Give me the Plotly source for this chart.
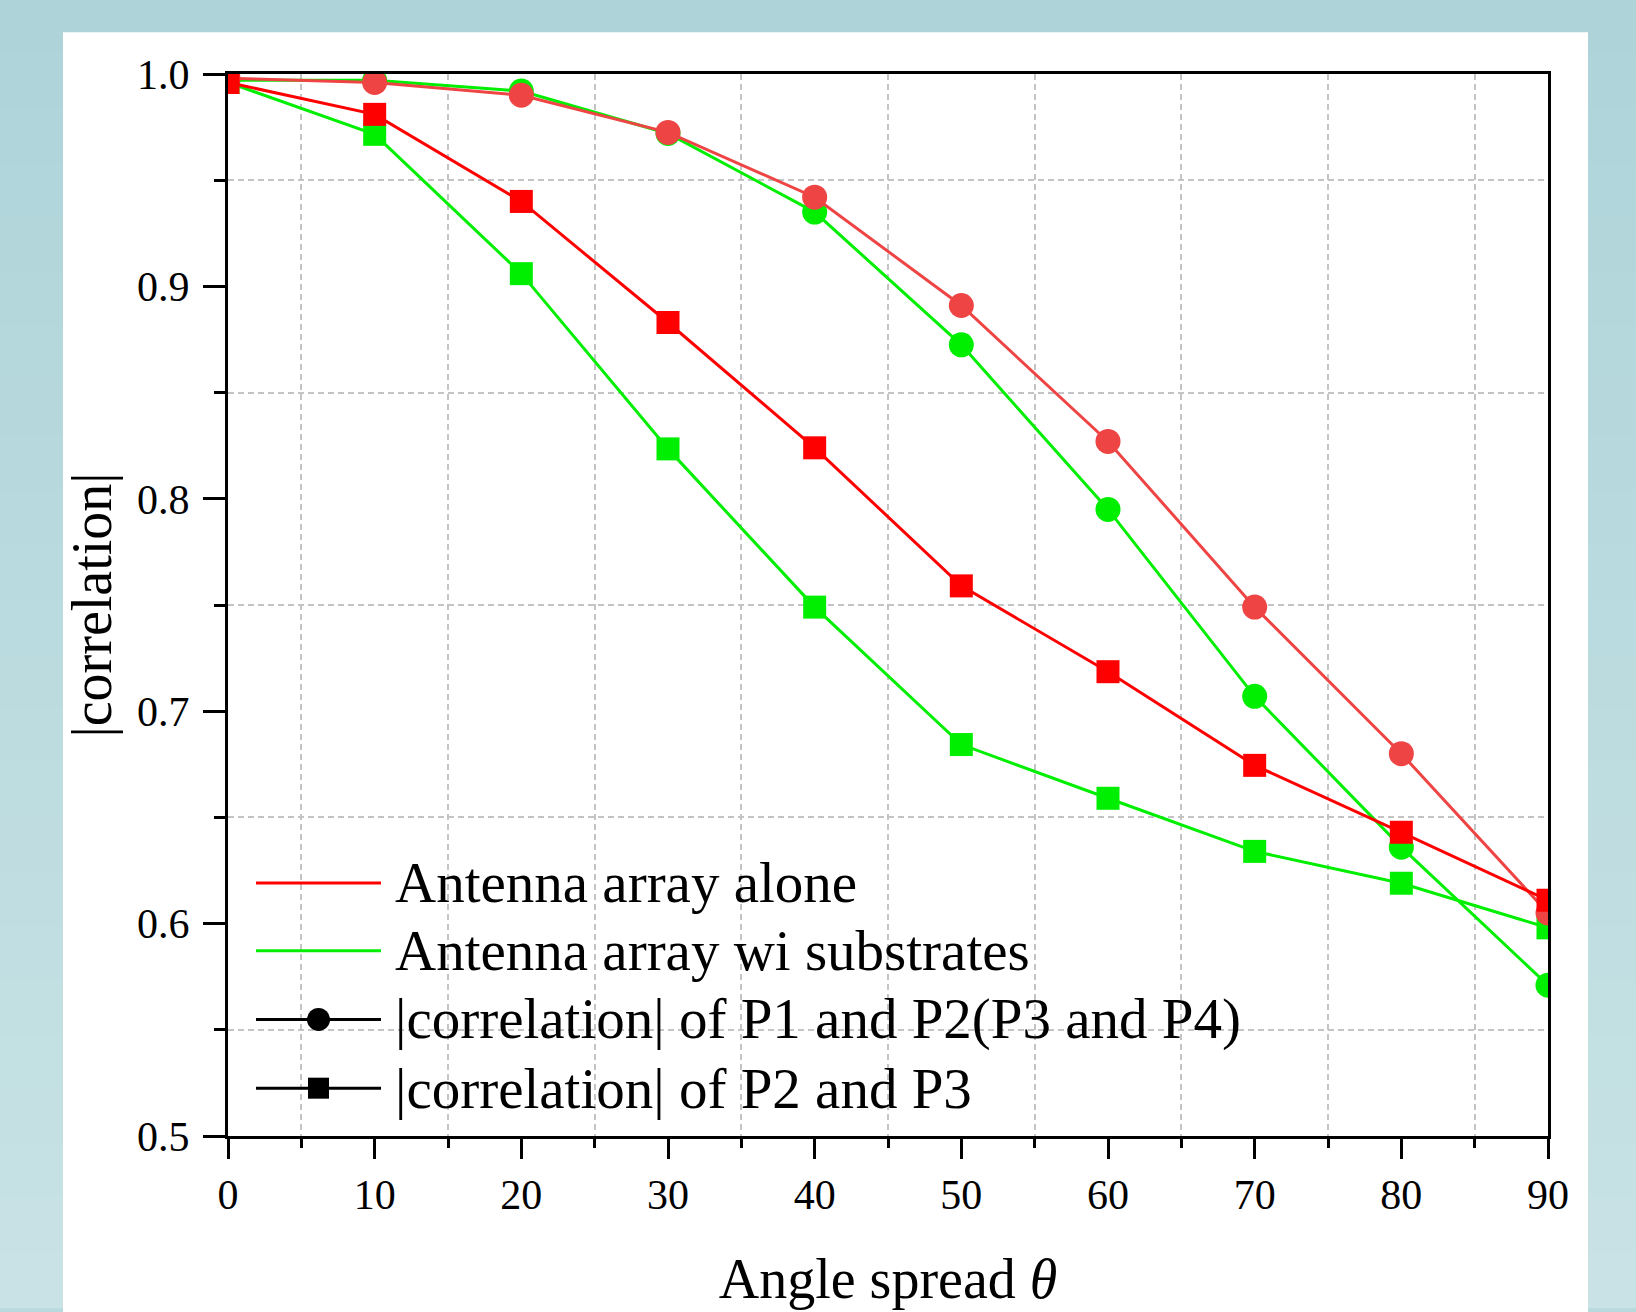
import plotly.graph_objects as go

# ---- data ----
angle = [0, 10, 20, 30, 40, 50, 60, 70, 80, 90]
alone_p12 = [0.998, 0.996, 0.990, 0.9725, 0.942, 0.891, 0.827, 0.749, 0.680, 0.605]
subs_p12 = [0.997, 0.997, 0.992, 0.972, 0.935, 0.8725, 0.795, 0.707, 0.636, 0.571]
alone_p23 = [0.996, 0.981, 0.940, 0.883, 0.824, 0.759, 0.7186, 0.6745, 0.643, 0.611]
subs_p23 = [0.996, 0.9716, 0.906, 0.8235, 0.749, 0.6843, 0.659, 0.634, 0.619, 0.598]

legend_names = ["Antenna array alone", "Antenna array wi substrates",
                "|correlation| of P1 and P2(P3 and P4)", "|correlation| of P2 and P3"]
x_ticks = [0, 10, 20, 30, 40, 50, 60, 70, 80, 90]
x_minor_ticks = [5, 15, 25, 35, 45, 55, 65, 75, 85]
y_ticks = [0.5, 0.6, 0.7, 0.8, 0.9, 1.0]
y_tick_text = ["0.5", "0.6", "0.7", "0.8", "0.9", "1.0"]
y_minor_ticks = [0.55, 0.65, 0.75, 0.85, 0.95]

RED = "#ff0000"
RED_C = "#ef4444"
GREEN = "#00ee00"
FONT = "Liberation Serif"

W, H = 1636, 1312
L, R, T, B = 228, 88, 74, 172

fig = go.Figure()

def add(y, color, symbol, size, name):
    fig.add_trace(go.Scatter(
        x=angle, y=y, mode="lines+markers", showlegend=False, name=name,
        line=dict(color=color, width=3),
        marker=dict(color=color, symbol=symbol, size=size, line=dict(width=0)),
    ))

add(subs_p12, GREEN, "circle", 25, legend_names[1])
add(subs_p23, GREEN, "square", 23, legend_names[1])
add(alone_p12, RED_C, "circle", 25, legend_names[0])
add(alone_p23, RED, "square", 23, legend_names[0])

plot_w = W - L - R
plot_h = H - T - B
def px_to_paper_x(px):
    return (px - L) / plot_w
def px_to_paper_y(py):
    return (H - B - py) / plot_h

# background: teal gradient + white panel
shapes = []
top_c = (174, 212, 217)
bot_c = (200, 226, 229)
n = 24
for i in range(n):
    f = i / (n - 1)
    c = tuple(round(top_c[k] + (bot_c[k] - top_c[k]) * f) for k in range(3))
    shapes.append(dict(type="rect", xref="paper", yref="paper", layer="below",
                       x0=px_to_paper_x(-5), x1=px_to_paper_x(W + 5),
                       y0=px_to_paper_y(H * (i + 1) / n + 1), y1=px_to_paper_y(H * i / n - 1),
                       fillcolor="rgb(%d,%d,%d)" % c, line=dict(width=0)))
shapes.append(dict(type="rect", xref="paper", yref="paper", layer="below",
                   x0=px_to_paper_x(63), x1=px_to_paper_x(1588),
                   y0=px_to_paper_y(H + 5), y1=px_to_paper_y(32),
                   fillcolor="white", line=dict(width=0)))

# legend (drawn as a key box inside the plot)
leg_rows = [886, 954, 1023, 1092]
leg_line_colors = [RED, GREEN, "black", "black"]
leg_symbols = [None, None, "circle", "square"]
sym_x0, sym_x1, text_x = 256, 381, 393
annotations = []
for row, name, col, sym in zip(leg_rows, legend_names, leg_line_colors, leg_symbols):
    yp = px_to_paper_y(row)
    shapes.append(dict(type="line", xref="paper", yref="paper",
                       x0=px_to_paper_x(sym_x0), x1=px_to_paper_x(sym_x1), y0=yp, y1=yp,
                       line=dict(color=col, width=3)))
    if sym is not None:
        xc = px_to_paper_x((sym_x0 + sym_x1) / 2)
        half = 11.5 if sym == "circle" else 10.5
        shapes.append(dict(type="circle" if sym == "circle" else "rect",
                           xref="paper", yref="paper",
                           xsizemode="pixel", ysizemode="pixel", xanchor=xc, yanchor=yp,
                           x0=-half, x1=half, y0=-half, y1=half,
                           fillcolor="black", line=dict(width=0)))
    annotations.append(dict(xref="paper", yref="paper", x=px_to_paper_x(text_x), y=yp,
                            xanchor="left", yanchor="middle", showarrow=False, text=name,
                            font=dict(family=FONT, size=57, color="black")))

axis_common = dict(
    showline=True, linecolor="black", linewidth=3, mirror=True,
    ticks="outside", tickcolor="black", tickwidth=2.5,
    showgrid=False, zeroline=False,
    tickfont=dict(family=FONT, size=42, color="black"),
)

fig.update_xaxes(
    **axis_common,
    range=[0, 90], tickvals=x_ticks, ticklen=20,
    minor=dict(tickvals=x_minor_ticks, ticks="outside", ticklen=9, tickcolor="black", tickwidth=2.5,
               showgrid=True, gridcolor="#c4c4c4", gridwidth=1.5, griddash="6px,4px"),
    title=dict(text="Angle spread <i>θ</i>", font=dict(family=FONT, size=56, color="black"),
               standoff=42),
    ticklabelstandoff=0,
)
fig.update_yaxes(
    **axis_common,
    range=[0.5, 1.0], tickvals=y_ticks, ticktext=y_tick_text, ticklen=22,
    minor=dict(tickvals=y_minor_ticks, ticks="outside", ticklen=11, tickcolor="black", tickwidth=2.5,
               showgrid=True, gridcolor="#c4c4c4", gridwidth=1.5, griddash="6px,4px"),
    title=dict(text="|correlation|", font=dict(family=FONT, size=56, color="black"), standoff=8),
    ticklabelstandoff=5,
)

fig.update_layout(
    width=W, height=H,
    margin=dict(l=L, r=R, t=T, b=B, pad=0),
    paper_bgcolor="#b8dade", plot_bgcolor="rgba(0,0,0,0)",
    shapes=shapes, annotations=annotations,
    showlegend=False,
    font=dict(family=FONT, color="black"),
)

fig.write_html("out.html", config={"displayModeBar": False},
               post_script="document.body.style.margin='0px';document.body.style.overflow='hidden';")
